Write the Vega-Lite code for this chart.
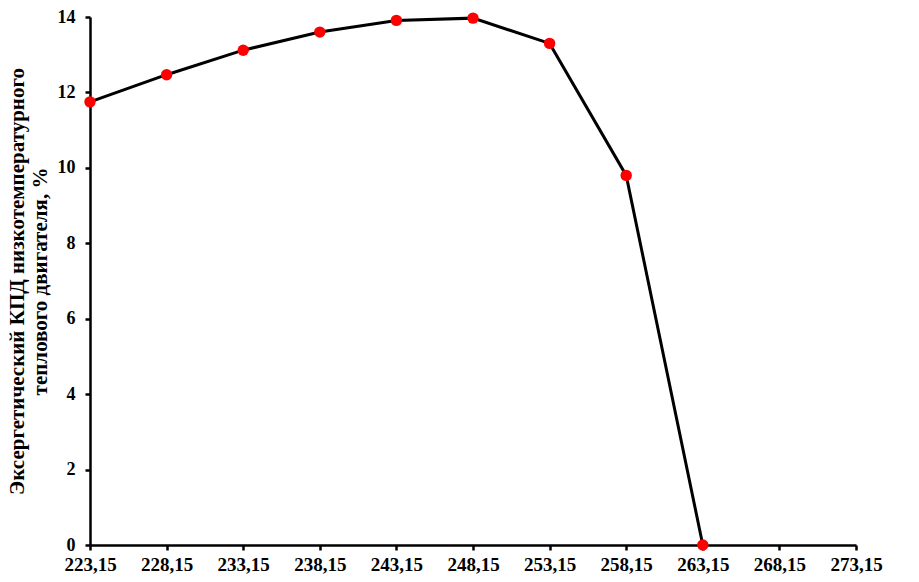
{
  "$schema": "https://vega.github.io/schema/vega-lite/v6.json",
  "autosize": "none",
  "padding": {"left": 90, "top": 17, "right": 63, "bottom": 37},
  "width": 766,
  "height": 528,
  "background": "white",
  "config": {"view": {"stroke": null}, "font": "Liberation Serif"},
  "data": {"values": [
    {"t": 223.15, "eff": 11.75},
    {"t": 228.15, "eff": 12.47},
    {"t": 233.15, "eff": 13.12},
    {"t": 238.15, "eff": 13.6},
    {"t": 243.15, "eff": 13.91},
    {"t": 248.15, "eff": 13.97},
    {"t": 253.15, "eff": 13.3},
    {"t": 258.15, "eff": 9.8},
    {"t": 263.15, "eff": 0}
  ]},
  "encoding": {
    "x": {"field": "t", "type": "quantitative",
      "scale": {"domain": [223.15, 273.15], "nice": false, "zero": false},
      "axis": {"values": [223.15, 228.15, 233.15, 238.15, 243.15, 248.15, 253.15, 258.15, 263.15, 268.15, 273.15],
        "labelExpr": "replace(format(datum.value, '.2f'), '.', ',')",
        "labelOverlap": false, "labelFlush": false, "labelBound": false,
        "title": null, "grid": false, "domainColor": "black", "domainWidth": 2.5,
        "tickColor": "black", "tickWidth": 2.5, "tickSize": 5,
        "labelFont": "Liberation Serif", "labelFontWeight": "bold", "labelFontSize": 19, "labelColor": "black", "labelPadding": 5}},
    "y": {"field": "eff", "type": "quantitative",
      "scale": {"domain": [0, 14], "nice": false},
      "axis": {"values": [0, 2, 4, 6, 8, 10, 12, 14],
        "labelOverlap": false, "labelFlush": false, "labelBound": false,
        "title": ["Эксергетический КПД низкотемпературного", "теплового двигателя, %"],
        "titleFont": "Liberation Serif", "titleFontWeight": "bold", "titleFontSize": 21, "titleColor": "black", "titlePadding": 7, "titleLineHeight": 23,
        "grid": false, "domainColor": "black", "domainWidth": 2.5,
        "tickColor": "black", "tickWidth": 2.5, "tickSize": 5,
        "labelFont": "Liberation Serif", "labelFontWeight": "bold", "labelFontSize": 18, "labelColor": "black", "labelPadding": 10}}
  },
  "layer": [
    {"mark": {"type": "line", "color": "black", "strokeWidth": 3}},
    {"mark": {"type": "point", "filled": true, "color": "red", "size": 130, "opacity": 1}}
  ]
}
